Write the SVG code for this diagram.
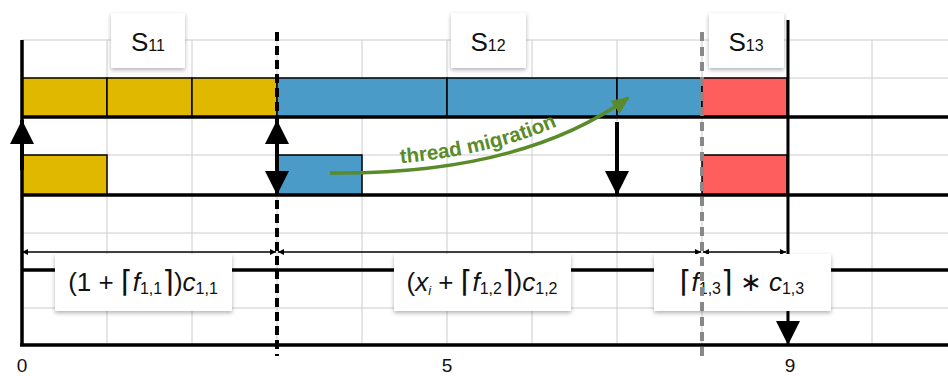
<svg xmlns="http://www.w3.org/2000/svg" width="948" height="376" viewBox="0 0 948 376">
<style>
.grid{stroke:#cccccc;stroke-width:1;fill:none}
.thick{stroke:#000;stroke-width:3.5;fill:none}
.bar{stroke:#000;stroke-width:1.5}
.y{fill:#E1B800}.b{fill:#4A9BC8}.r{fill:#FF5E5E}
.box{fill:#fff;filter:url(#sh)}
.t{font-family:"Liberation Sans","DejaVu Sans",sans-serif;fill:#111}
.it{font-style:italic}
.sub{font-size:16px}
.dim{stroke:#000;stroke-width:1.5;fill:none;marker-start:url(#dm);marker-end:url(#dm)}
.big{stroke:#000;stroke-width:4;fill:none}
</style>
<defs>
<filter id="sh" x="-20%" y="-20%" width="140%" height="150%">
<feDropShadow dx="0" dy="2" stdDeviation="2" flood-color="#000" flood-opacity="0.3"/>
</filter>
<marker id="dm" viewBox="0 0 6 6" refX="6" refY="3" markerWidth="6" markerHeight="6" markerUnits="userSpaceOnUse" orient="auto-start-reverse">
<path d="M0,0 L6,3 L0,6 z" fill="#000"/>
</marker>
<marker id="ah" viewBox="0 0 24 24" refX="24" refY="12" markerWidth="24" markerHeight="24" markerUnits="userSpaceOnUse" orient="auto-start-reverse">
<path d="M0,0 L24,12 L0,24 z" fill="#000"/>
</marker>
<marker id="ga" viewBox="0 0 18 16" refX="16" refY="8" markerWidth="18" markerHeight="16" markerUnits="userSpaceOnUse" orient="auto">
<path d="M0,0 L18,8 L0,16 z" fill="#5A8B2A"/>
</marker>
</defs>
<g id="grid">
<path class="grid" d="M107 40V345M192 40V345M277 40V345M362 40V345M447 40V345M532 40V345M617 40V345M702 40V345M787 40V345M872 40V345M22 40H948M22 78H948M22 155H948M22 233H948M22 308H948"/>
</g>
<g id="bars">
<rect class="bar y" x="22" y="78" width="85" height="39"/>
<rect class="bar y" x="107" y="78" width="85" height="39"/>
<rect class="bar y" x="192" y="78" width="85" height="39"/>
<rect class="bar b" x="277" y="78" width="170" height="39"/>
<rect class="bar b" x="447" y="78" width="170" height="39"/>
<rect class="bar b" x="617" y="78" width="85" height="39"/>
<rect class="bar r" x="702" y="78" width="85" height="39"/>
<rect class="bar y" x="22" y="155" width="85" height="40"/>
<rect class="bar b" x="277" y="155" width="85" height="40"/>
<rect class="bar r" x="702" y="155" width="85" height="40"/>
</g>
<g id="axes">
<path class="thick" d="M22 40V345M22 117H948M22 195H948M22 270H948M20 345H948"/>
<line x1="277" y1="32" x2="277" y2="356" stroke="#000" stroke-width="4" stroke-dasharray="9 5"/>
</g>
<g id="connectors">
<line class="big" x1="22" y1="170" x2="22" y2="120" marker-end="url(#ah)"/>
<line class="big" x1="277" y1="120" x2="277" y2="195" marker-start="url(#ah)" marker-end="url(#ah)"/>
<line class="big" x1="617" y1="122" x2="617" y2="195" marker-end="url(#ah)"/>
<line x1="788" y1="20" x2="788" y2="345" stroke="#000" stroke-width="3" marker-end="url(#ah)"/>
<line class="dim" x1="22" y1="252" x2="276" y2="252"/>
<line class="dim" x1="278" y1="252" x2="701" y2="252"/>
<line class="dim" x1="703" y1="252" x2="786" y2="252"/>
<path id="mig" d="M330 173 Q520 175 628 98" stroke="#5A8B2A" stroke-width="3.5" fill="none" marker-end="url(#ga)"/>
<path id="tp" d="M330 166 Q515 167 624 89" fill="none"/>
<text font-family="Liberation Sans, DejaVu Sans, sans-serif" font-weight="bold" font-size="20.5" fill="#5A8B2A"><textPath href="#tp" startOffset="49%" text-anchor="middle">thread migration</textPath></text>
</g>
<g id="label-s11">
<rect class="box" x="111" y="13" width="74" height="55"/>
<text class="t" x="148" y="51" text-anchor="middle" font-size="26">S<tspan class="sub">11</tspan></text>
</g>
<g id="label-s12">
<rect class="box" x="451" y="13" width="75" height="55"/>
<text class="t" x="488" y="51" text-anchor="middle" font-size="26">S<tspan class="sub">12</tspan></text>
</g>
<g id="label-s13">
<rect class="box" x="709" y="13" width="75" height="55"/>
<text class="t" x="746" y="51" text-anchor="middle" font-size="26">S<tspan class="sub">13</tspan></text>
</g>
<g id="label-f1">
<rect class="box" x="55" y="254" width="177" height="57"/>
<text class="t" x="143" y="291" text-anchor="middle" font-size="26">(1 + <tspan font-size="30" dy="1">⌈</tspan><tspan class="it" dy="-1">f</tspan><tspan class="sub" dy="3">1,1</tspan><tspan font-size="30" dy="-2">⌉</tspan><tspan dy="-1">)</tspan><tspan class="it">c</tspan><tspan class="sub" dy="3">1,1</tspan></text>
</g>
<g id="label-f2">
<rect class="box" x="394" y="254" width="177" height="57"/>
<text class="t" x="482" y="291" text-anchor="middle" font-size="26">(<tspan class="it">x</tspan><tspan class="it" font-size="13" dy="4">i</tspan><tspan dy="-4"> + </tspan><tspan font-size="30" dy="1">⌈</tspan><tspan class="it" dy="-1">f</tspan><tspan class="sub" dy="3">1,2</tspan><tspan font-size="30" dy="-2">⌉</tspan><tspan dy="-1">)</tspan><tspan class="it">c</tspan><tspan class="sub" dy="3">1,2</tspan></text>
</g>
<g id="label-f3">
<rect class="box" x="654" y="254" width="177" height="57"/>
<text class="t" x="742" y="291" text-anchor="middle" font-size="26"><tspan font-size="30" dy="1">⌈</tspan><tspan class="it" dy="-1">f</tspan><tspan class="sub" dy="3">1,3</tspan><tspan font-size="30" dy="-2">⌉</tspan><tspan dy="-1"> ∗ </tspan><tspan class="it">c</tspan><tspan class="sub" dy="3">1,3</tspan></text>
</g>
<g id="gray-divider">
<line x1="702" y1="32" x2="702" y2="356" stroke="#888" stroke-width="4" stroke-dasharray="9 6"/>
</g>
<g id="ticks">
<text class="t" x="22" y="372" text-anchor="middle" font-size="19">0</text>
<text class="t" x="447" y="372" text-anchor="middle" font-size="19">5</text>
<text class="t" x="790" y="372" text-anchor="middle" font-size="19">9</text>
</g>
</svg>
